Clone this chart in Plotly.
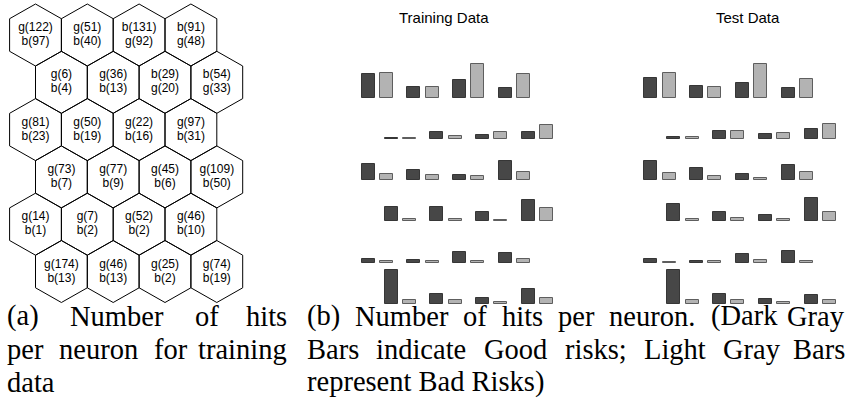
import plotly.graph_objects as go

# ---------------- data ----------------
# (a) hex map: hits per neuron for training data (good / bad counts)
hex_good = [
    [122, 51, 92, 48],
    [6, 36, 20, 33],
    [81, 50, 22, 97],
    [73, 77, 45, 109],
    [14, 7, 52, 46],
    [174, 46, 25, 74],
]
hex_bad = [
    [97, 40, 131, 91],
    [4, 13, 29, 54],
    [23, 19, 16, 31],
    [7, 9, 6, 50],
    [1, 2, 2, 10],
    [13, 13, 2, 19],
]

# (b) bar heights (relative hits) per neuron, rows of the map
train_good = [
    [23.7, 10.3, 17.7, 9.3],
    [1.3, 7.0, 3.7, 6.7],
    [15.7, 10.0, 4.7, 19.0],
    [14.3, 14.7, 9.0, 21.0],
    [3.3, 2.3, 10.7, 9.3],
    [34.0, 9.7, 5.7, 15.0],
]
train_bad = [
    [24.3, 10.3, 33.7, 23.7],
    [1.3, 3.3, 7.3, 13.7],
    [6.0, 5.0, 4.0, 8.3],
    [2.3, 2.3, 1.3, 13.0],
    [1.3, 1.3, 1.3, 3.3],
    [3.7, 3.7, 1.3, 5.7],
]
test_good = [
    [19.3, 11.7, 14.7, 9.3],
    [2.3, 7.7, 4.7, 10.3],
    [19.3, 12.0, 5.7, 14.7],
    [17.3, 9.0, 6.0, 23.7],
    [3.3, 1.7, 8.3, 11.7],
    [34.0, 9.3, 4.7, 9.0],
]
test_bad = [
    [24.3, 10.3, 33.7, 18.3],
    [1.7, 8.3, 6.3, 14.7],
    [6.7, 4.0, 2.0, 7.7],
    [2.3, 3.3, 2.3, 9.3],
    [1.0, 2.0, 2.3, 1.7],
    [3.7, 3.7, 1.7, 3.7],
]

panel_titles = ["Training Data", "Test Data"]

caption_a = ["(a) Number of hits", "per neuron for training", "data"]
caption_b = ["(b) Number of hits per neuron. (Dark Gray",
             "Bars indicate Good risks; Light Gray Bars",
             "represent Bad Risks)"]

# ---------------- layout helpers ----------------
W, H = 849, 400


def Y(py):
    return H - py


fig = go.Figure()

# hexagon grid
cx0, dx, cy0, dy = 35.5, 51.8, 35.0, 47.3
half_w, r_top, r_side = dx / 2, 31.0, 16.3
hx, hy = [], []
tx, ty1, ty2, t1, t2 = [], [], [], [], []
for r, (grow, brow) in enumerate(zip(hex_good, hex_bad)):
    for c, (g, b) in enumerate(zip(grow, brow)):
        cx = cx0 + c * dx + (dx / 2 if r % 2 else 0)
        cy = cy0 + r * dy
        pts = [(cx, cy - r_top), (cx + half_w, cy - r_side), (cx + half_w, cy + r_side),
               (cx, cy + r_top), (cx - half_w, cy + r_side), (cx - half_w, cy - r_side),
               (cx, cy - r_top)]
        for px, py in pts:
            hx.append(px)
            hy.append(Y(py))
        hx.append(None)
        hy.append(None)
        first, second = (f"g({g})", f"b({b})") if g >= b else (f"b({b})", f"g({g})")
        tx.append(cx)
        ty1.append(Y(cy - 7))
        ty2.append(Y(cy + 7))
        t1.append(first)
        t2.append(second)

fig.add_trace(go.Scatter(x=hx, y=hy, mode="lines", line=dict(color="black", width=1),
                         hoverinfo="skip", showlegend=False))
for yy, tt in ((ty1, t1), (ty2, t2)):
    fig.add_trace(go.Scatter(x=tx, y=yy, mode="text", text=tt,
                             textfont=dict(family="Liberation Sans, Arial", size=12, color="black"),
                             hoverinfo="skip", showlegend=False))

# bar panels
pair_dx, light_off, row_shift = 45.8, 18.3, 23.0
base0, row_dy = 97.7, 41.2
dark_fill, dark_line = "#474747", "#363636"
light_fill, light_line = "#b3b3b3", "#5e5e5e"
panels = [(368.0, train_good, train_bad), (650.7, test_good, test_bad)]
for x0, goods, bads in panels:
    for data, off, fill, line in ((goods, 0.0, dark_fill, dark_line),
                                  (bads, light_off, light_fill, light_line)):
        xs, ys, bases = [], [], []
        for r, row in enumerate(data):
            for c, v in enumerate(row):
                xs.append(x0 + c * pair_dx + (row_shift if r % 2 else 0) + off)
                ys.append(v)
                bases.append(Y(base0 + r * row_dy))
        fig.add_trace(go.Bar(x=xs, y=ys, base=bases, width=13,
                             marker=dict(color=fill, line=dict(color=line, width=1)),
                             hoverinfo="skip", showlegend=False))

title_x = [444, 748]
for t, x in zip(panel_titles, title_x):
    fig.add_annotation(x=x, y=Y(17), text=t, showarrow=False, xanchor="center", yanchor="middle",
                       font=dict(family="Liberation Sans, Arial", size=15, color="black"))

# captions (justified like the LaTeX original)
CAP_SIZE = 28.5
cap_font = dict(family="Liberation Serif, Times New Roman, serif", size=CAP_SIZE, color="black")
EM = {" ": .25, "(": .333, ")": .333, ".": .25, ";": .278,
      "a": .444, "b": .5, "c": .444, "d": .5, "e": .444, "f": .333, "g": .5,
      "h": .5, "i": .278, "k": .5, "m": .778, "n": .5, "o": .5, "p": .5,
      "r": .333, "s": .389, "t": .278, "u": .5, "y": .5,
      "B": .667, "D": .722, "G": .722, "L": .611, "N": .722, "R": .667}


def word_w(w):
    return sum(EM.get(ch, .5) for ch in w) * CAP_SIZE


def put_line(text, left, right, yy, justify):
    if not justify:
        fig.add_annotation(x=left, y=Y(yy), text=text, showarrow=False, xanchor="left",
                           yanchor="middle", font=cap_font)
        return
    words = text.split(" ")
    widths = [word_w(w) for w in words]
    gap = (right - left - sum(widths)) / (len(words) - 1)
    x = left
    for i, (w, ww) in enumerate(zip(words, widths)):
        if i == len(words) - 1:
            fig.add_annotation(x=right, y=Y(yy), text=w, showarrow=False, xanchor="right",
                               yanchor="middle", font=cap_font)
        else:
            fig.add_annotation(x=x, y=Y(yy), text=w, showarrow=False, xanchor="left",
                               yanchor="middle", font=cap_font)
        x += ww + gap


cap_lines_y = [316, 349, 382]
for cap, (left, right) in ((caption_a, (5, 289)), (caption_b, (305, 847))):
    for i, (txt, yy) in enumerate(zip(cap, cap_lines_y)):
        put_line(txt, left, right, yy, justify=(i < len(cap) - 1))

fig.update_layout(
    width=W, height=H, margin=dict(l=0, r=0, t=0, b=0),
    plot_bgcolor="white", paper_bgcolor="white", barmode="overlay", bargap=0,
    xaxis=dict(range=[0, W], visible=False, fixedrange=True),
    yaxis=dict(range=[0, H], visible=False, fixedrange=True),
)

fig.write_html("out.html", config={"displayModeBar": False},
               post_script="document.body.style.margin='0';")
